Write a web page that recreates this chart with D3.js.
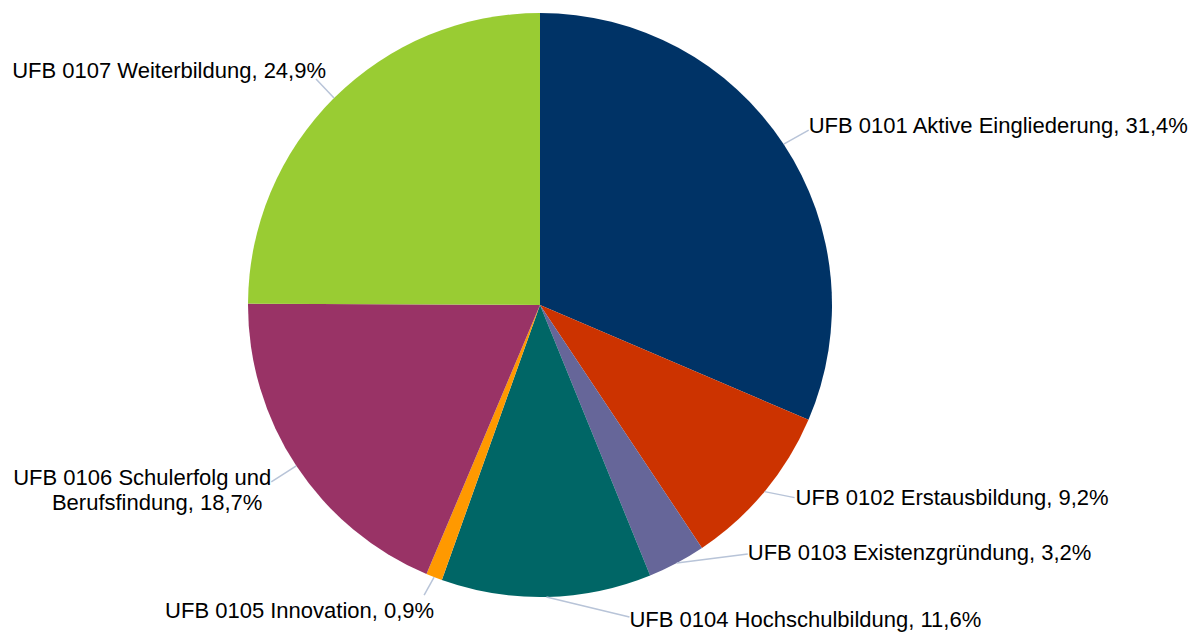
<!DOCTYPE html>
<html>
<head>
<meta charset="utf-8">
<script src="https://cdn.jsdelivr.net/npm/d3@7"></script>
<style>
  body { margin: 0; background: #fff; }
  text { font-family: "Liberation Sans", Arial, sans-serif; font-size: 22px; fill: #000; }
</style>
</head>
<body>
<div id="chart"></div>
<script>
var w = 1204;
var h = 634;

// data
var codes = ["UFB 0101", "UFB 0102", "UFB 0103", "UFB 0104", "UFB 0105", "UFB 0106", "UFB 0107"];
var names = ["Aktive Eingliederung", "Erstausbildung", "Existenzgründung", "Hochschulbildung", "Innovation", "Schulerfolg und Berufsfindung", "Weiterbildung"];
var shares = [31.4, 9.2, 3.2, 11.6, 0.9, 18.7, 24.9];

var colors = d3.scaleOrdinal().domain(codes)
    .range(["#003366", "#cc3300", "#666699", "#006666", "#ff9900", "#993366", "#99cc33"]);

// label layout: leader end offset from slice edge, text offset from leader end
var labelLayout = [
    {lx: 25, ly: -14, anchor: "start", tx: 0, ty: 3},
    {lx: 30, ly: 6, anchor: "start", tx: 1, ty: 7},
    {lx: 71, ly: -9, anchor: "start", tx: 0, ty: 6},
    {lx: 83, ly: 20, anchor: "start", tx: 0, ty: 10},
    {lx: -10, ly: 18, anchor: "end", tx: 10, ty: 23},
    {lx: -25, ly: 16, anchor: "end", tx: 0, ty: 3, lines: ["UFB 0106 Schulerfolg und", "Berufsfindung, 18,7%"], lineDx: [0, -9]},
    {lx: -18, ly: -19, anchor: "end", tx: 10, ty: -1}
];

var cx = 540, cy = 305, r = 292;

var svg = d3.select("#chart")
    .append("svg")
    .attr("width", w)
    .attr("height", h);

var dataset = codes.map(function(c, i) {
    return {code: c, name: names[i], value: shares[i], i: i};
});

var pie = d3.pie().sort(null).value(function(d) { return d.value; });
var arcs = pie(dataset);

var arc = d3.arc().innerRadius(0).outerRadius(r);

var g = svg.append("g").attr("transform", "translate(" + cx + "," + cy + ")");

g.selectAll("path")
    .data(arcs)
    .enter()
    .append("path")
    .attr("d", arc)
    .attr("fill", function(d) { return colors(d.data.code); });

function edgePoint(d) {
    var a = (d.startAngle + d.endAngle) / 2;
    return [r * Math.sin(a), -r * Math.cos(a)];
}

function fmt(v) {
    return String(v.toFixed(1)).replace(".", ",") + "%";
}

g.selectAll(".leader")
    .data(arcs)
    .enter()
    .append("line")
    .attr("class", "leader")
    .attr("x1", function(d) { return edgePoint(d)[0]; })
    .attr("y1", function(d) { return edgePoint(d)[1]; })
    .attr("x2", function(d) { return edgePoint(d)[0] + labelLayout[d.data.i].lx; })
    .attr("y2", function(d) { return edgePoint(d)[1] + labelLayout[d.data.i].ly; })
    .attr("stroke", "#b8c4d8")
    .attr("stroke-width", 1.5);

var labels = g.selectAll(".label")
    .data(arcs)
    .enter()
    .append("text")
    .attr("class", "label")
    .attr("text-anchor", function(d) { return labelLayout[d.data.i].anchor; })
    .attr("x", function(d) { var L = labelLayout[d.data.i]; return edgePoint(d)[0] + L.lx + L.tx; })
    .attr("y", function(d) { var L = labelLayout[d.data.i]; return edgePoint(d)[1] + L.ly + L.ty; });

labels.each(function(d) {
    var L = labelLayout[d.data.i];
    var t = d3.select(this);
    if (L.lines) {
        var x0 = +t.attr("x");
        L.lines.forEach(function(line, k) {
            t.append("tspan")
                .attr("x", x0 + L.lineDx[k])
                .attr("dy", k === 0 ? 0 : 25)
                .text(line);
        });
    } else {
        t.text(d.data.code + " " + d.data.name + ", " + fmt(d.data.value));
    }
});
</script>
</body>
</html>
